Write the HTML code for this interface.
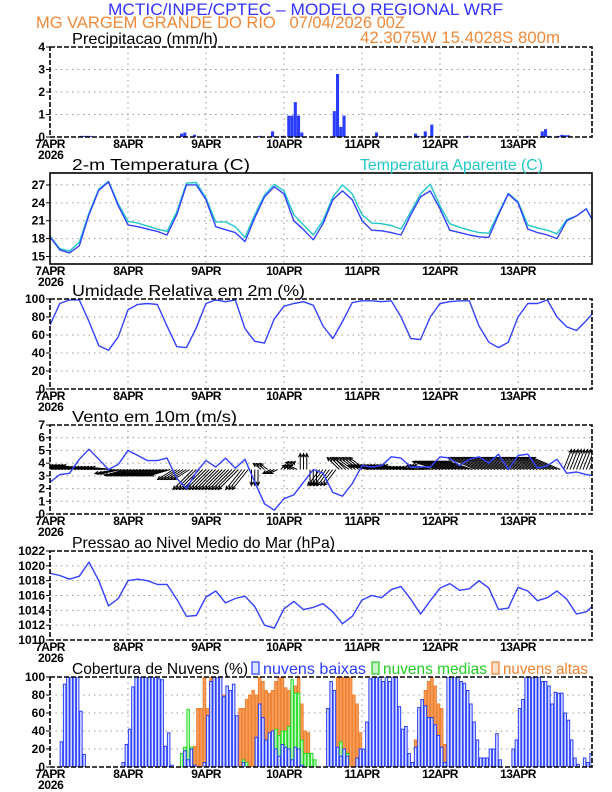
<!DOCTYPE html>
<html><head><meta charset="utf-8"><style>
html,body{margin:0;padding:0;background:#fff}
svg{display:block;font-family:"Liberation Sans",sans-serif}
</style></head><body>
<svg id="c" width="612" height="792" viewBox="0 0 612 792" xmlns="http://www.w3.org/2000/svg">
<text x="108" y="15" font-size="17" fill="#3333ff" textLength="395" lengthAdjust="spacingAndGlyphs">MCTIC/INPE/CPTEC – MODELO REGIONAL WRF</text>
<text x="36" y="28" font-size="17" fill="#f08a3a" textLength="369" lengthAdjust="spacingAndGlyphs" xml:space="preserve">MG VARGEM GRANDE DO RIO   07/04/2026 00Z</text>
<text x="360" y="43" font-size="17" fill="#f08a3a" textLength="200" lengthAdjust="spacingAndGlyphs">42.3075W 15.4028S 800m</text>
</svg>
<script>
const precipHours=[9,10,11,12,40,41,44,64,68,71,73,74,75,76,77,87,88,89,90,100,108,112,113,115,117,128,151,152,153,156,157,158,159];
const precipValues=[0.05,0.05,0.05,0.05,0.15,0.2,0.1,0.05,0.25,0.05,0.95,0.95,1.55,0.95,0.2,1.15,2.8,0.45,0.95,0.2,0.02,0.15,0.05,0.25,0.55,0.05,0.25,0.35,0.05,0.05,0.1,0.08,0.08];
const tempBlue=[18.3,16.1,15.6,16.8,22,26.1,27.5,23.5,20.3,20,19.6,19.2,18.6,22,27,27,24.5,20,19.5,19,17.5,21.5,25,26.7,25.5,21,19.5,17.8,20.5,24.5,26,24.5,21,19.4,19.3,19,18.6,22,25,26,23,19.4,19,18.6,18.3,18.2,22,25.5,24,19.6,19,18.6,18,21,21.8,23,20,18.6];
const tempApparent=[18.4,16.3,15.9,17.4,22.3,26.3,27.6,23.8,20.9,20.6,20.1,19.6,19.2,22.5,27.3,27.4,24.8,20.8,20.8,20,18.2,22,25.3,27.1,26,22,20.3,18.6,21,25,27,25.5,22,20.6,20.5,20.2,19.6,22.5,25.5,27.1,23.5,20.5,19.9,19.4,19,18.9,22.3,25.6,24.2,20.3,19.8,19.4,18.8,21.2,21.8,23,20,18.6];
const rhValues=[71,95,99,99,75,48,43,58,88,94,95,94,70,47,46,68,95,99,97,99,67,53,51,78,92,95,97,93,70,56,75,96,98,98,97,98,80,56,55,80,95,97,98,98,70,52,46,52,80,95,95,99,80,69,65,76,88];
const windSpeed=[2.5,3.1,3.2,4.3,5.1,4.3,3.5,3.9,5.0,4.6,4.2,4.2,4.4,2.8,2.0,3.3,4.2,3.7,4.4,3.6,4.3,2.5,0.8,0.3,1.2,1.5,2.5,3.5,3.2,1.7,1.4,2.4,3.8,3.7,3.8,4.5,4.4,3.7,3.7,3.7,4.5,4.4,3.8,4.3,4.5,4.0,4.7,3.5,4.6,4.7,3.6,3.8,4.3,3.2,3.3,3.1,3.0];
const windU=[-5,-5,-5,-5,-5,-5,-5,-5,-5,-5,-5,-5,-5,-4,-4,-5,-5,-5,-5,-5,-4,0,-2,-2,2,-2,0,0,-3,-3,-3,-4,-4,-5,-5,-5,-5,-5,-5,-5,-6,-6,-6,-6,-7,-7,-7,-7,-7,-7,-7,-7,-7,2,2,2,2];
const windV=[1,1,1,1,0.5,0.5,0.5,-1,-1.5,-1.5,-1.5,-1.5,-1.5,-2.5,-2.5,-5,-5,-5,-5,-5,-5,-4,1.5,-1,2,1,4,-4,-4,-4,3,3,3,1,1,1,1,0.5,0.5,1,2,2,2,2,3,3,3,3,3,3,3,3,3,5,5,5,5];
const pressure=[1019,1018.7,1018.2,1018.6,1020.5,1018,1014.6,1015.6,1018,1018.2,1018,1017.5,1017.5,1015.5,1013.2,1013.3,1015.8,1016.6,1015,1015.6,1015.9,1014.5,1012,1011.6,1014.2,1015.2,1014.1,1014.4,1014.9,1013.8,1012.2,1013.2,1015.4,1016,1015.7,1016.8,1017.2,1015.5,1013.5,1015.3,1017,1017.6,1016.7,1016.9,1018,1017,1014.1,1014.3,1017.1,1016.6,1015.3,1015.7,1016.6,1015.5,1013.5,1013.8,1015];
const cloudLow=[0,0,0,28,92,100,100,100,100,62,14,0,0,0,0,0,0,0,0,0,0,0,5,25,42,89,100,100,100,100,100,100,100,98,97,23,38,2,0,0,0,18,8,20,2,0,0,5,57,95,100,100,100,78,90,85,92,57,0,5,0,0,0,33,70,55,30,38,40,20,12,25,22,20,8,22,20,2,0,0,0,0,0,0,0,65,95,85,22,12,20,12,0,0,10,20,20,50,98,100,100,100,95,100,95,100,100,67,42,45,15,5,22,66,75,68,55,55,47,35,22,5,100,100,100,100,95,93,85,70,50,30,10,10,10,20,20,37,8,0,0,0,20,30,65,75,100,100,100,100,100,95,95,90,70,83,82,82,60,52,30,10,3,0,10,5,15,0];
const cloudMid=[0,0,0,0,0,0,0,0,0,0,0,0,0,0,0,0,0,0,0,0,0,0,0,0,0,0,0,0,0,0,0,0,0,0,0,0,0,0,0,0,15,22,64,22,0,0,0,0,0,0,0,0,0,0,0,0,0,0,0,8,5,0,0,20,20,15,30,35,38,42,35,40,40,45,97,82,82,30,15,15,15,8,0,0,0,0,0,0,12,28,20,15,0,0,0,5,8,0,0,0,10,12,0,0,0,0,0,0,0,0,0,0,0,5,15,30,22,10];
const cloudHigh=[0,0,0,0,0,0,0,0,0,0,0,0,0,0,0,0,0,0,0,0,0,0,0,0,0,0,0,0,0,0,0,0,0,0,0,0,0,0,0,0,0,0,0,0,23,65,65,100,65,100,100,100,90,80,55,30,20,20,65,65,75,80,85,80,100,95,85,82,85,95,100,100,88,85,88,90,100,70,40,38,10,0,0,0,0,40,60,85,100,100,100,100,100,80,70,38,5,0,0,0,0,0,0,0,0,10,12,10,0,0,0,0,30,50,75,85,95,100,90,70,65,25,0,0,0,0,0,0,0,0,0,0,0,0,0,0,0,0,0,0,0,0,0,0,0,0,0,0,0,0,0,0,0,0,0,0,0,0,0,0,15];
const dayLabels=["7APR","8APR","9APR","10APR","11APR","12APR","13APR"];
const tempTicks=[15,18,21,24,27];
const precipTicks=[0,1,2,3,4];
const rhTicks=[0,20,40,60,80,100];
const windTicks=[0,1,2,3,4,5,6,7];
const presTicks=[1010,1012,1014,1016,1018,1020,1022];
const cloudTicks=[0,20,40,60,80,100];

const NS="http://www.w3.org/2000/svg";
const svg=document.getElementById('c');
const X0=50,X1=592,PXH=3.25;
function xh(h){return X0+h*PXH;}
function mk(tag,attrs,parent){const e=document.createElementNS(NS,tag);for(const k in attrs)e.setAttribute(k,attrs[k]);(parent||svg).appendChild(e);return e;}
function scaleY(top,bot,vmin,vmax){return v=>bot-(v-vmin)/(vmax-vmin)*(bot-top);}

function panel(name,top,bot,vmin,vmax,ticks,title,tlen){
  const g=mk('g',{});
  
  
  const ys=scaleY(top,bot,vmin,vmax);
  ticks.forEach(t=>{const y=ys(t);
    if(y>top+1&&y<bot-1){const l=mk('line',{x1:X0,x2:X1,y1:y,y2:y,stroke:'#999','stroke-width':1,'stroke-dasharray':'1.5,4'},g);
    }
    const tk=mk('text',{x:45,y:y+4,'font-size':12,'font-weight':'bold','text-anchor':'end',fill:'#000'},g);
    
    tk.textContent=String(t);
    mk('line',{x1:X0-4,x2:X0,y1:y,y2:y,stroke:'#000','stroke-width':1},g);
  });
  dayLabels.forEach((d,i)=>{const x=X0+i*78;
    if(i>0){const l=mk('line',{x1:x,x2:x,y1:top,y2:bot,stroke:'#999','stroke-width':1,'stroke-dasharray':'1.5,4'},g);
    }
    const tl=mk('text',{x:x,y:bot+11,'font-size':12,'font-weight':'bold','text-anchor':'middle',fill:'#000','letter-spacing':'-0.6'},g);
    
    tl.textContent=d;
    if(i===0){const yl=mk('text',{x:x-12,y:bot+22,'font-size':12,'font-weight':'bold',fill:'#000','letter-spacing':'-0.3'},g);
      yl.textContent='2026';}
  });
  const tt=mk('text',{x:72,y:top-3,'font-size':16,fill:'#000',textLength:tlen,lengthAdjust:'spacingAndGlyphs'},g);
  tt.textContent=title;
  const cp=mk('clipPath',{id:'clip-'+name},g);mk('rect',{x:X0,y:top,width:X1-X0,height:bot-top},cp);
  const plot=mk('g',{'clip-path':'url(#clip-'+name+')'},g);
  
  return {g,plot,ys,top,bot};
}
function frame(p,name,dashTop){
  const r=mk('rect',{x:X0,y:p.top,width:X1-X0,height:p.bot-p.top,fill:'none',stroke:'#000','stroke-width':1.6},p.g);
  
  if(dashTop){r.setAttribute('stroke-dasharray','5,2');}
}
function line(p,vals,step,color,name,w){
  const d=vals.map((v,i)=>(i?'L':'M')+xh(i*step).toFixed(1)+','+p.ys(v).toFixed(1)).join('');
  const pa=mk('path',{d:d,fill:'none',stroke:color,'stroke-width':w||1.4,'stroke-linejoin':'round'},p.plot);
  
}

// Precip
const p1=panel('precipitation',47,137,0,4,precipTicks,'Precipitacao (mm/h)',146);
precipHours.forEach((h,i)=>{const y=p1.ys(precipValues[i]);
  const b=mk('rect',{x:xh(h),y:y,width:3.1,height:p1.bot-y,fill:'#2b3cff'},p1.plot);
  });
frame(p1,'precipitation',true);

// Temp
const p2=panel('temperature',173,264,13.74,29,tempTicks,'2-m Temperatura (C)',178);
line(p2,tempApparent,3,'#22c8c8','apparent-temperature-line');
line(p2,tempBlue,3,'#3340ff','temperature-line');
frame(p2,'temperature',false);
const at=mk('text',{x:360,y:170,'font-size':16,fill:'#22c8c8',textLength:183,lengthAdjust:'spacingAndGlyphs'});
at.textContent='Temperatura Aparente (C)';

// RH
const p3=panel('humidity',299,389,0,100,rhTicks,'Umidade Relativa em 2m (%)',233);
line(p3,rhValues,3,'#3340ff','humidity-line');
frame(p3,'humidity',true);

// Wind
const p4=panel('wind',425,514,0,7,windTicks,'Vento em 10m (m/s)',165);
const base=p4.ys(3.5);
for(let h=0;h<168;h++){const i=Math.min(Math.round(h/3),windU.length-1);
  const u=windU[i]*4,v=windV[i]*4;const x=xh(h),x2=x+u,y2=base-v;
  const a=Math.atan2(y2-base,x2-x);
  const ar=mk('path',{d:`M${x},${base}L${x2},${y2}M${x2-4*Math.cos(a-0.45)},${y2-4*Math.sin(a-0.45)}L${x2},${y2}L${x2-4*Math.cos(a+0.45)},${y2-4*Math.sin(a+0.45)}`,stroke:'#000','stroke-width':1,fill:'none'},p4.plot);
  }
line(p4,windSpeed,3,'#3340ff','wind-speed-line');
frame(p4,'wind',true);

// Pressure
const p5=panel('pressure',551,640,1010,1022,presTicks,'Pressao ao Nivel Medio do Mar (hPa)',263);
line(p5,pressure,3,'#3340ff','pressure-line');
frame(p5,'pressure',true);

// Clouds
const p6=panel('clouds',677,767,0,100,cloudTicks,'Cobertura de Nuvens (%)',176);
function bars(vals,fill,stroke,name){vals.forEach((v,h)=>{if(v<=0)return;const y=p6.ys(v);
  const b=mk('rect',{x:xh(h)+0.4,y:y,width:2.5,height:p6.bot-y,fill:fill,stroke:stroke,'stroke-width':1},p6.plot);
  });}
bars(cloudHigh,'#f5a060','#f08030','high-cloud-bar');
bars(cloudMid,'#c8f5c8','#22dd22','mid-cloud-bar');
bars(cloudLow,'#dde6ff','#2b3cff','low-cloud-bar');
frame(p6,'clouds',true);
[['nuvens baixas','#2b3cff','#dde6ff',252,103],['nuvens medias','#22cc22','#c8f5c8',372,104],['nuvens altas','#f08030','#fde0c8',492,85]].forEach(l=>{
  const r=mk('rect',{x:l[3],y:662,width:7,height:12,fill:l[2],stroke:l[1],'stroke-width':1.2});
  
  const t=mk('text',{x:l[3]+11,y:674,'font-size':16,fill:l[1],textLength:l[4],lengthAdjust:'spacingAndGlyphs'});
  t.textContent=l[0];});
</script>
</body></html>
